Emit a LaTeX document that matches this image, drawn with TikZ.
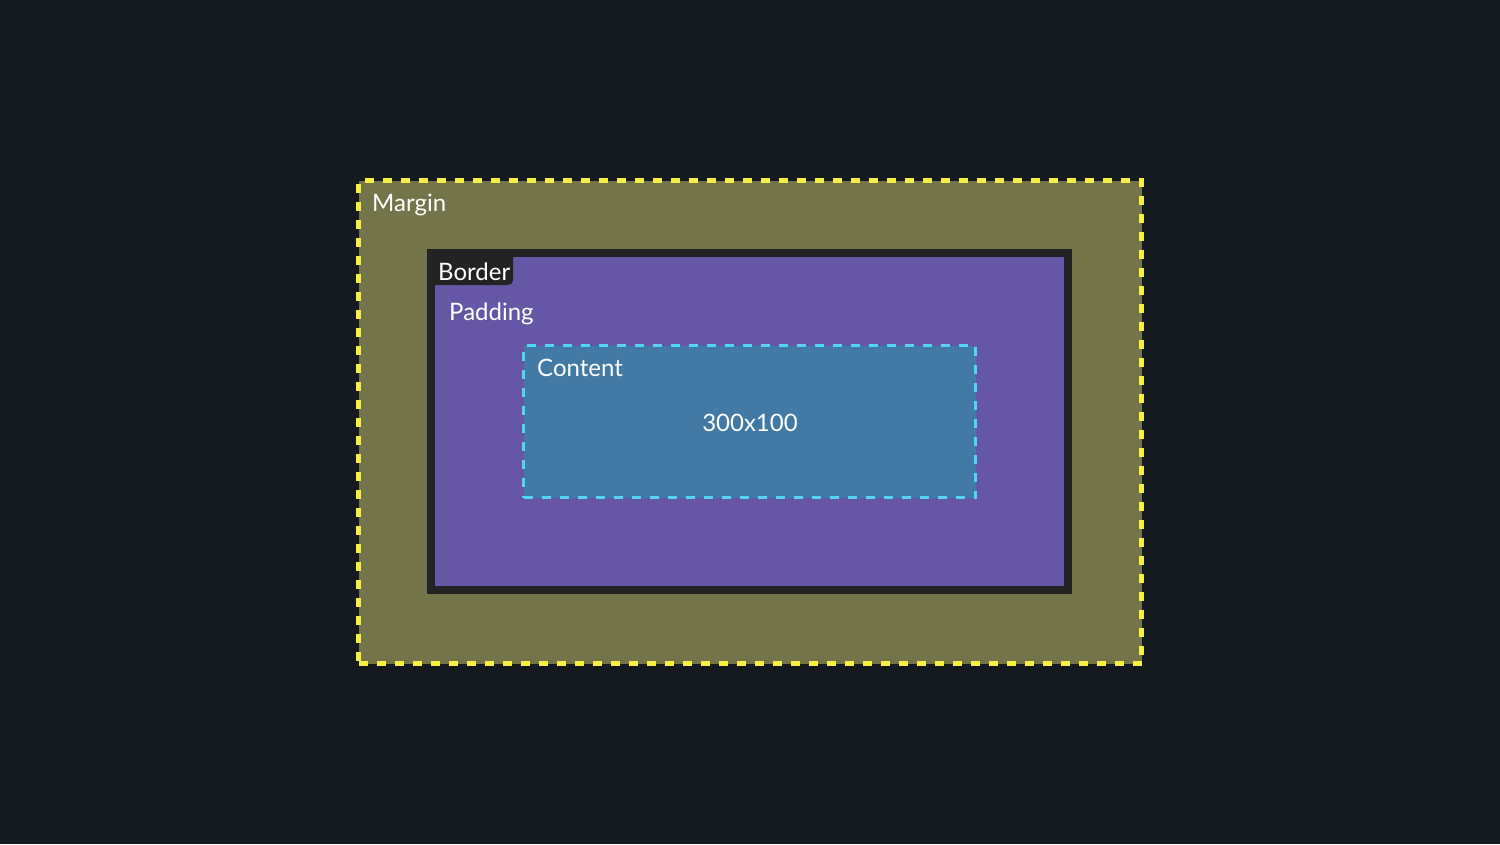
\documentclass[tikz,border=0pt]{standalone}
\usepackage{fontspec}
\setmainfont{Lato}
\definecolor{bgc}{HTML}{141A1E}
\definecolor{olive}{HTML}{737449}
\definecolor{yel}{HTML}{F5F043}
\definecolor{darkb}{HTML}{232323}
\definecolor{purp}{HTML}{6657A6}
\definecolor{contc}{HTML}{4279A5}
\definecolor{cyanc}{HTML}{53D4F5}
\tikzset{
  boxrect/.style={rectangle, inner sep=0pt, outer sep=0pt},
  lbl/.style={anchor=base west, inner sep=0pt, text=white, font=\fontsize{24}{28}\selectfont},
}
\begin{document}
\begin{tikzpicture}[x=1pt,y=-1pt]
\fill[bgc] (0,0) rectangle (1500,844);
\useasboundingbox (0,0) rectangle (1500,844);
\node[boxrect, fill=olive, draw=yel, line width=5pt, dash pattern=on 9pt off 9pt,
  minimum width=783pt, minimum height=483pt] (margin) at (750,422) {};
\node[boxrect, fill=purp, draw=darkb, line width=8pt,
  minimum width=637pt, minimum height=337pt] (border) at (749.5,421.5) {};
\node[boxrect, fill=contc, draw=cyanc, line width=3pt, dash pattern=on 9pt off 9pt,
  minimum width=452pt, minimum height=152pt] (content) at (749.5,421.5) {};
\fill[darkb] (435,257) -- (513,257) -- (513,280) .. controls (513,283) and (511,285) .. (508,285) -- (435,285) -- cycle;
\node[lbl] (tm) at (372,211) {Margin};
\node[lbl] (tb) at (438,280) {Border};
\node[lbl] (tp) at (449,320) {Padding};
\node[lbl] (tc) at (537,376) {Content};
\node[lbl, anchor=base] (ts) at (750,431) {300x100};
\end{tikzpicture}
\end{document}
